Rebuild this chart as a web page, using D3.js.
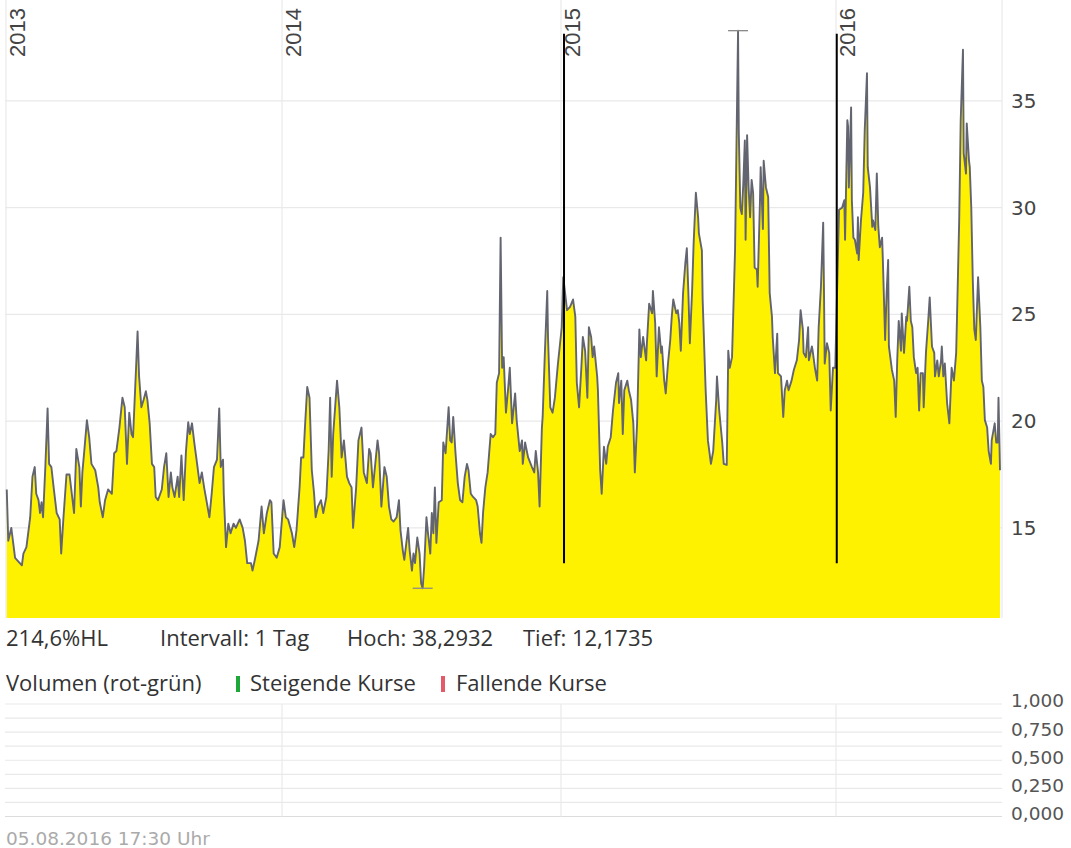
<!DOCTYPE html>
<html><head><meta charset="utf-8">
<script src="https://cdn.jsdelivr.net/npm/d3@7/dist/d3.min.js"></script>
<style>html,body{margin:0;padding:0;background:#fff;overflow:hidden}</style>
</head><body><svg id="c" width="1071" height="848"></svg>
<script>
// ---------- data ----------
const prices2013 = [["2013-01-02",16.8],["2013-01-04",14.4],["2013-01-08",15.0],["2013-01-13",13.6],["2013-01-22",13.25],["2013-01-24",13.8],["2013-01-28",14.1],["2013-02-02",15.5],["2013-02-05",17.4],["2013-02-08",17.85],["2013-02-10",16.6],["2013-02-13",16.3],["2013-02-15",15.7],["2013-02-17",16.2],["2013-02-19",15.5],["2013-02-22",17.85],["2013-02-25",20.6],["2013-02-27",18.0],["2013-03-02",17.85],["2013-03-05",16.9],["2013-03-09",15.7],["2013-03-13",15.4],["2013-03-15",13.8],["2013-03-18",15.5],["2013-03-22",17.5],["2013-03-26",17.5],["2013-03-29",16.6],["2013-04-01",15.7],["2013-04-04",18.7],["2013-04-08",17.85],["2013-04-10",16.0],["2013-04-12",17.6],["2013-04-15",18.8],["2013-04-18",20.05],["2013-04-21",19.25],["2013-04-24",18.0],["2013-04-29",17.7],["2013-05-03",16.9],["2013-05-05",16.2],["2013-05-09",15.5],["2013-05-12",16.3],["2013-05-16",16.8],["2013-05-21",16.6],["2013-05-24",18.5],["2013-05-27",18.6],["2013-05-31",19.7],["2013-06-04",21.1],["2013-06-07",20.65],["2013-06-10",18.0],["2013-06-13",20.4],["2013-06-16",19.4],["2013-06-18",19.25],["2013-06-22",22.5],["2013-06-24",24.2],["2013-06-26",22.1],["2013-06-29",20.65],["2013-07-02",21.0],["2013-07-05",21.4],["2013-07-07",21.0],["2013-07-10",19.9],["2013-07-13",18.0],["2013-07-16",17.85],["2013-07-18",16.45],["2013-07-21",16.3],["2013-07-26",16.8],["2013-07-29",17.85],["2013-08-01",18.5],["2013-08-04",16.45],["2013-08-07",17.6],["2013-08-09",16.9],["2013-08-12",16.45],["2013-08-16",17.4],["2013-08-18",16.45],["2013-08-21",18.4],["2013-08-24",16.3],["2013-08-27",18.6],["2013-08-30",19.95],["2013-09-01",19.4],["2013-09-04",19.9],["2013-09-07",19.0],["2013-09-10",18.2],["2013-09-14",17.1],["2013-09-17",17.6],["2013-09-20",16.9],["2013-09-23",16.3],["2013-09-27",15.5],["2013-09-30",16.6],["2013-10-03",17.85],["2013-10-07",18.2],["2013-10-10",20.6],["2013-10-12",17.85],["2013-10-15",18.2],["2013-10-16",16.6],["2013-10-19",14.1],["2013-10-22",15.2],["2013-10-25",14.75],["2013-10-29",15.2],["2013-11-01",15.0],["2013-11-06",15.4],["2013-11-10",15.0],["2013-11-13",14.4],["2013-11-16",13.35],["2013-11-21",13.35],["2013-11-23",13.0],["2013-11-26",13.5],["2013-12-01",14.4],["2013-12-05",16.0],["2013-12-08",14.75],["2013-12-12",15.7],["2013-12-16",16.3],["2013-12-18",16.2],["2013-12-21",13.8],["2013-12-25",13.6],["2013-12-29",14.1]];
const prices2014 = [["2014-01-03",16.3],["2014-01-06",15.5],["2014-01-09",15.4],["2014-01-14",14.75],["2014-01-17",14.1],["2014-01-20",14.9],["2014-01-24",16.9],["2014-01-26",18.3],["2014-01-29",18.3],["2014-01-31",19.7],["2014-02-03",21.6],["2014-02-06",21.1],["2014-02-09",17.7],["2014-02-12",16.6],["2014-02-14",15.5],["2014-02-17",16.0],["2014-02-21",16.3],["2014-02-24",15.7],["2014-02-28",16.45],["2014-03-03",18.6],["2014-03-05",21.1],["2014-03-07",17.4],["2014-03-09",19.4],["2014-03-14",21.9],["2014-03-17",20.65],["2014-03-20",18.3],["2014-03-23",19.1],["2014-03-27",17.4],["2014-03-30",17.1],["2014-04-02",16.9],["2014-04-04",15.0],["2014-04-08",16.9],["2014-04-11",19.1],["2014-04-15",19.7],["2014-04-18",17.6],["2014-04-22",17.1],["2014-04-25",18.7],["2014-04-27",18.5],["2014-04-30",16.9],["2014-05-03",18.0],["2014-05-06",19.1],["2014-05-08",18.5],["2014-05-11",16.0],["2014-05-15",17.85],["2014-05-18",17.4],["2014-05-21",16.0],["2014-05-24",15.4],["2014-05-27",15.3],["2014-05-31",15.5],["2014-06-03",16.3],["2014-06-05",14.9],["2014-06-08",13.95],["2014-06-10",13.5],["2014-06-12",14.1],["2014-06-15",15.0],["2014-06-17",13.95],["2014-06-20",13.0],["2014-06-22",13.8],["2014-06-24",13.35],["2014-06-27",14.55],["2014-06-30",13.8],["2014-07-02",12.4],["2014-07-04",12.1735],["2014-07-06",13.2],["2014-07-09",15.5],["2014-07-11",14.75],["2014-07-14",13.8],["2014-07-16",15.7],["2014-07-18",14.75],["2014-07-20",16.9],["2014-07-22",14.3],["2014-07-25",16.2],["2014-07-29",16.3],["2014-07-31",19.0],["2014-08-03",18.5],["2014-08-07",20.65],["2014-08-09",19.1],["2014-08-11",19.0],["2014-08-13",20.2],["2014-08-16",18.5],["2014-08-19",17.1],["2014-08-22",16.3],["2014-08-25",16.2],["2014-08-28",17.4],["2014-08-31",18.0],["2014-09-02",17.7],["2014-09-05",16.6],["2014-09-08",16.45],["2014-09-12",16.3],["2014-09-14",16.0],["2014-09-17",14.75],["2014-09-19",14.3],["2014-09-21",15.7],["2014-09-24",16.9],["2014-09-27",17.6],["2014-09-29",18.5],["2014-10-01",19.4],["2014-10-04",19.25],["2014-10-07",19.4],["2014-10-09",21.8],["2014-10-12",22.25],["2014-10-14",28.6],["2014-10-16",22.5],["2014-10-18",23.0],["2014-10-21",20.4],["2014-10-24",21.6],["2014-10-26",22.5],["2014-10-29",19.9],["2014-11-02",21.3],["2014-11-04",20.05],["2014-11-08",18.6],["2014-11-11",19.1],["2014-11-12",18.0],["2014-11-15",19.0],["2014-11-19",18.3],["2014-11-24",17.85],["2014-11-27",17.6],["2014-11-29",18.6],["2014-12-02",17.6],["2014-12-04",16.0],["2014-12-07",19.7],["2014-12-08",20.2],["2014-12-11",23.3],["2014-12-14",26.1],["2014-12-15",23.95],["2014-12-18",20.65],["2014-12-21",20.4],["2014-12-24",21.1],["2014-12-28",22.7]];
const prices2015 = [["2015-01-02",24.4],["2015-01-04",26.75],["2015-01-09",25.2],["2015-01-13",25.35],["2015-01-17",25.7],["2015-01-20",24.9],["2015-01-22",21.8],["2015-01-25",20.65],["2015-01-28",22.5],["2015-01-30",23.95],["2015-02-02",23.3],["2015-02-05",21.1],["2015-02-07",24.4],["2015-02-10",23.95],["2015-02-12",23.0],["2015-02-14",23.5],["2015-02-18",22.1],["2015-02-19",21.45],["2015-02-22",17.7],["2015-02-24",16.6],["2015-02-27",18.8],["2015-03-02",18.0],["2015-03-04",18.8],["2015-03-08",19.25],["2015-03-11",20.5],["2015-03-15",21.8],["2015-03-18",22.25],["2015-03-19",20.85],["2015-03-22",21.9],["2015-03-24",19.4],["2015-03-26",21.45],["2015-03-30",21.9],["2015-04-01",21.45],["2015-04-04",21.0],["2015-04-07",19.9],["2015-04-09",17.6],["2015-04-12",19.9],["2015-04-15",24.3],["2015-04-17",23.0],["2015-04-20",23.95],["2015-04-24",22.85],["2015-04-25",23.65],["2015-04-28",25.5],["2015-05-02",25.05],["2015-05-03",26.1],["2015-05-06",24.6],["2015-05-08",22.1],["2015-05-11",24.4],["2015-05-14",23.2],["2015-05-15",23.5],["2015-05-18",21.9],["2015-05-20",21.3],["2015-05-23",22.7],["2015-05-26",23.8],["2015-05-28",24.9],["2015-05-30",25.7],["2015-06-03",25.05],["2015-06-05",25.2],["2015-06-07",24.6],["2015-06-09",23.3],["2015-06-12",26.0],["2015-06-15",27.4],["2015-06-17",28.1],["2015-06-19",26.1],["2015-06-21",23.65],["2015-06-24",26.1],["2015-06-26",28.3],["2015-06-29",30.7],["2015-07-02",29.55],["2015-07-03",28.8],["2015-07-07",28.0],["2015-07-08",25.7],["2015-07-12",21.45],["2015-07-15",19.1],["2015-07-19",18.0],["2015-07-22",18.6],["2015-07-26",21.0],["2015-07-27",22.1],["2015-07-30",20.5],["2015-08-03",19.0],["2015-08-05",18.0],["2015-08-09",17.95],["2015-08-11",23.3],["2015-08-13",22.5],["2015-08-16",23.0],["2015-08-20",28.0],["2015-08-24",38.2932],["2015-08-25",33.5],["2015-08-27",30.0],["2015-08-29",29.7],["2015-08-31",31.15],["2015-09-02",33.15],["2015-09-03",28.5],["2015-09-05",33.4],["2015-09-07",30.95],["2015-09-09",29.55],["2015-09-11",31.3],["2015-09-13",30.7],["2015-09-15",27.2],["2015-09-18",27.1],["2015-09-19",26.3],["2015-09-22",30.2],["2015-09-23",31.9],["2015-09-26",29.0],["2015-09-27",32.2],["2015-09-30",30.95],["2015-10-03",30.5],["2015-10-05",26.0],["2015-10-08",24.9],["2015-10-09",23.95],["2015-10-12",22.25],["2015-10-15",24.1],["2015-10-16",22.25],["2015-10-20",22.1],["2015-10-23",20.2],["2015-10-25",21.45],["2015-10-28",21.9],["2015-10-30",21.45],["2015-11-03",21.9],["2015-11-06",22.4],["2015-11-10",22.85],["2015-11-13",23.8],["2015-11-15",25.2],["2015-11-18",24.3],["2015-11-19",23.2],["2015-11-22",23.0],["2015-11-25",24.4],["2015-11-26",22.85],["2015-11-30",23.5],["2015-12-01",23.3],["2015-12-04",22.5],["2015-12-07",21.9],["2015-12-09",24.4],["2015-12-12",26.3],["2015-12-15",29.3],["2015-12-16",26.3],["2015-12-17",22.7],["2015-12-20",23.65],["2015-12-23",23.2],["2015-12-25",20.5],["2015-12-28",22.5],["2015-12-31",22.5]];
const prices2016 = [["2016-01-05",29.9],["2016-01-09",30.0],["2016-01-12",30.35],["2016-01-13",28.5],["2016-01-16",34.1],["2016-01-17",33.8],["2016-01-18",30.95],["2016-01-21",34.7],["2016-01-22",30.35],["2016-01-24",28.6],["2016-01-26",28.5],["2016-01-29",27.85],["2016-01-30",29.55],["2016-01-31",27.55],["2016-02-03",29.4],["2016-02-06",30.7],["2016-02-08",33.6],["2016-02-11",36.3],["2016-02-12",31.9],["2016-02-15",30.95],["2016-02-18",29.1],["2016-02-19",29.4],["2016-02-22",28.95],["2016-02-24",31.6],["2016-02-26",29.1],["2016-02-28",28.15],["2016-03-02",28.6],["2016-03-03",27.55],["2016-03-06",23.8],["2016-03-08",26.0],["2016-03-10",27.55],["2016-03-11",23.5],["2016-03-15",22.4],["2016-03-18",21.9],["2016-03-20",20.2],["2016-03-22",22.85],["2016-03-24",24.7],["2016-03-27",23.3],["2016-03-28",25.05],["2016-03-31",23.2],["2016-04-03",24.9],["2016-04-04",24.7],["2016-04-07",26.3],["2016-04-09",24.7],["2016-04-11",24.4],["2016-04-13",23.0],["2016-04-16",22.25],["2016-04-18",22.5],["2016-04-20",20.5],["2016-04-22",22.25],["2016-04-25",22.25],["2016-04-26",20.65],["2016-04-29",23.2],["2016-05-02",24.7],["2016-05-04",25.8],["2016-05-07",23.5],["2016-05-10",23.2],["2016-05-11",22.1],["2016-05-14",22.85],["2016-05-16",22.1],["2016-05-19",22.85],["2016-05-20",23.5],["2016-05-22",22.1],["2016-05-24",22.7],["2016-05-27",20.85],["2016-05-30",19.9],["2016-06-01",21.6],["2016-06-02",22.5],["2016-06-05",21.9],["2016-06-08",23.2],["2016-06-09",24.7],["2016-06-12",29.4],["2016-06-14",34.1],["2016-06-17",37.4],["2016-06-18",32.55],["2016-06-21",31.6],["2016-06-22",33.95],["2016-06-25",32.2],["2016-06-26",31.9],["2016-06-28",30.0],["2016-06-30",26.6],["2016-07-02",24.3],["2016-07-04",23.8],["2016-07-07",26.75],["2016-07-10",24.4],["2016-07-12",21.9],["2016-07-14",21.6],["2016-07-16",20.05],["2016-07-19",19.7],["2016-07-21",18.6],["2016-07-24",18.0],["2016-07-25",19.1],["2016-07-29",19.9],["2016-07-31",19.0],["2016-08-01",19.0],["2016-08-02",19.0],["2016-08-03",21.1],["2016-08-04",19.4],["2016-08-05",17.7]];

const yearLabels = ["2013","2014","2015","2016"];
const periodEnd = "2016-08-05";
const priceTicks = [15, 20, 25, 30, 35];
const priceDomain = [10.78, 39.73];
const volumeTicks = [0, 0.25, 0.5, 0.75, 1];
const volumeGridValues = [0, 0.125, 0.25, 0.375, 0.5, 0.625, 0.75, 0.875, 1];
const high = {date: "2015-08-24", value: 38.2932};
const low = {date: "2014-07-04", value: 12.1735};
const markerDates = ["2015-01-05", "2016-01-02"];
const markerRange = [13.35, 38.15];
const infoTexts = ["214,6%HL", "Intervall: 1 Tag", "Hoch: 38,2932", "Tief: 12,1735"];
const legendTexts = ["Volumen (rot-grün)", "Steigende Kurse", "Fallende Kurse"];
const footerText = "05.08.2016 17:30 Uhr";

// ---------- drawing ----------
const parse = d3.timeParse("%Y-%m-%d");
const data = [...prices2013, ...prices2014, ...prices2015, ...prices2016]
  .map(([d, v]) => ({date: parse(d), value: v}));
const yearDates = yearLabels.map(y => parse(y + "-01-01"));

const svg = d3.select("#c");
const L = 5, R = 1002, T = 0, B = 618;
const x = d3.scaleTime()
  .domain([...yearDates, parse(periodEnd)])
  .range([6, 282, 561, 836, 1000]);
const y = d3.scaleLinear().domain(priceDomain).range([B, T]);
const grid = "#e9e9e9";

// grid
svg.append("g").selectAll("line").data(priceTicks).join("line")
  .attr("x1", L).attr("x2", R).attr("y1", d => y(d)).attr("y2", d => y(d))
  .attr("stroke", grid).attr("stroke-width", 1.2);
svg.append("g").selectAll("line").data(yearDates).join("line")
  .attr("x1", d => x(d)).attr("x2", d => x(d)).attr("y1", T).attr("y2", B)
  .attr("stroke", grid).attr("stroke-width", 1.2);
svg.append("line").attr("x1", R).attr("x2", R).attr("y1", T).attr("y2", B)
  .attr("stroke", grid).attr("stroke-width", 1.2);

// area + line
const area = d3.area().x(d => x(d.date)).y0(B).y1(d => y(d.value));
const line = d3.line().x(d => x(d.date)).y(d => y(d.value));
svg.append("path").datum(data).attr("d", area).attr("fill", "#fff200");
svg.append("path").datum(data).attr("d", line).attr("fill", "none")
  .attr("stroke", "#62646f").attr("stroke-width", 1.9).attr("stroke-linejoin", "round");

// high/low markers
[high, low].forEach(p => {
  const cx = x(parse(p.date)), cy = y(p.value);
  svg.append("line").attr("x1", cx - 10).attr("x2", cx + 10).attr("y1", cy).attr("y2", cy)
    .attr("stroke", "#8a8a8a").attr("stroke-width", 1.3);
});

// black vertical markers
svg.append("g").selectAll("line").data(markerDates).join("line")
  .attr("x1", d => x(parse(d))).attr("x2", d => x(parse(d)))
  .attr("y1", y(markerRange[1])).attr("y2", y(markerRange[0]))
  .attr("stroke", "#000").attr("stroke-width", 2);

// year labels
svg.append("g").selectAll("text").data(yearDates).join("text")
  .attr("transform", d => `translate(${x(d) + 19},8) rotate(-90)`)
  .attr("text-anchor", "end")
  .attr("font-family", "Liberation Sans, Arial, sans-serif").attr("font-size", 22)
  .attr("fill", "#444").text((d, i) => yearLabels[i]);

// price axis
const yAxis = svg.append("g").attr("transform", `translate(${R},0)`)
  .call(d3.axisRight(y).tickValues(priceTicks).tickSize(0).tickPadding(9));
yAxis.select(".domain").remove();
yAxis.selectAll("text").attr("font-family", "DejaVu Sans, sans-serif").attr("font-size", 20).attr("fill", "#444");

// info row
const infoX = [6, 160, 347, 523];
svg.append("g").selectAll("text").data(infoTexts).join("text")
  .attr("x", (d, i) => infoX[i]).attr("y", 646)
  .attr("font-family", "Open Sans, sans-serif").attr("font-size", 22).attr("fill", "#333")
  .text(d => d);

// legend row
const legX = [6, 250, 456];
svg.append("g").selectAll("text").data(legendTexts).join("text")
  .attr("x", (d, i) => legX[i]).attr("y", 691)
  .attr("font-family", "Open Sans, sans-serif").attr("font-size", 22).attr("fill", "#333")
  .text(d => d);
svg.append("rect").attr("x", 236).attr("y", 676).attr("width", 4).attr("height", 16).attr("fill", "#1fa83a");
svg.append("rect").attr("x", 441).attr("y", 676).attr("width", 4).attr("height", 16).attr("fill", "#e45a68");

// volume panel
const yv = d3.scaleLinear().domain([0, 1]).range([816.5, 704]);
svg.append("g").selectAll("line").data(volumeGridValues).join("line")
  .attr("x1", L).attr("x2", R).attr("y1", d => yv(d)).attr("y2", d => yv(d))
  .attr("stroke", d => d === 0 ? "#dcdcdc" : grid).attr("stroke-width", 1.2);
svg.append("g").selectAll("line").data(yearDates.slice(1)).join("line")
  .attr("x1", d => x(d)).attr("x2", d => x(d)).attr("y1", yv(1)).attr("y2", yv(0))
  .attr("stroke", grid).attr("stroke-width", 1.2);
const de = d3.formatLocale({decimal: ",", thousands: ".", grouping: [3], currency: ["", "€"]});
const vAxis = svg.append("g").attr("transform", `translate(${R},-3)`)
  .call(d3.axisRight(yv).tickValues(volumeTicks).tickSize(0).tickPadding(9).tickFormat(de.format(".3f")));
vAxis.select(".domain").remove();
vAxis.selectAll("text").attr("font-family", "DejaVu Sans, sans-serif").attr("font-size", 18.5).attr("fill", "#555");

// footer
svg.append("text").attr("x", 6).attr("y", 845)
  .attr("font-family", "DejaVu Sans, sans-serif").attr("font-size", 18.5).attr("fill", "#aaa")
  .text(footerText);
</script></body></html>
